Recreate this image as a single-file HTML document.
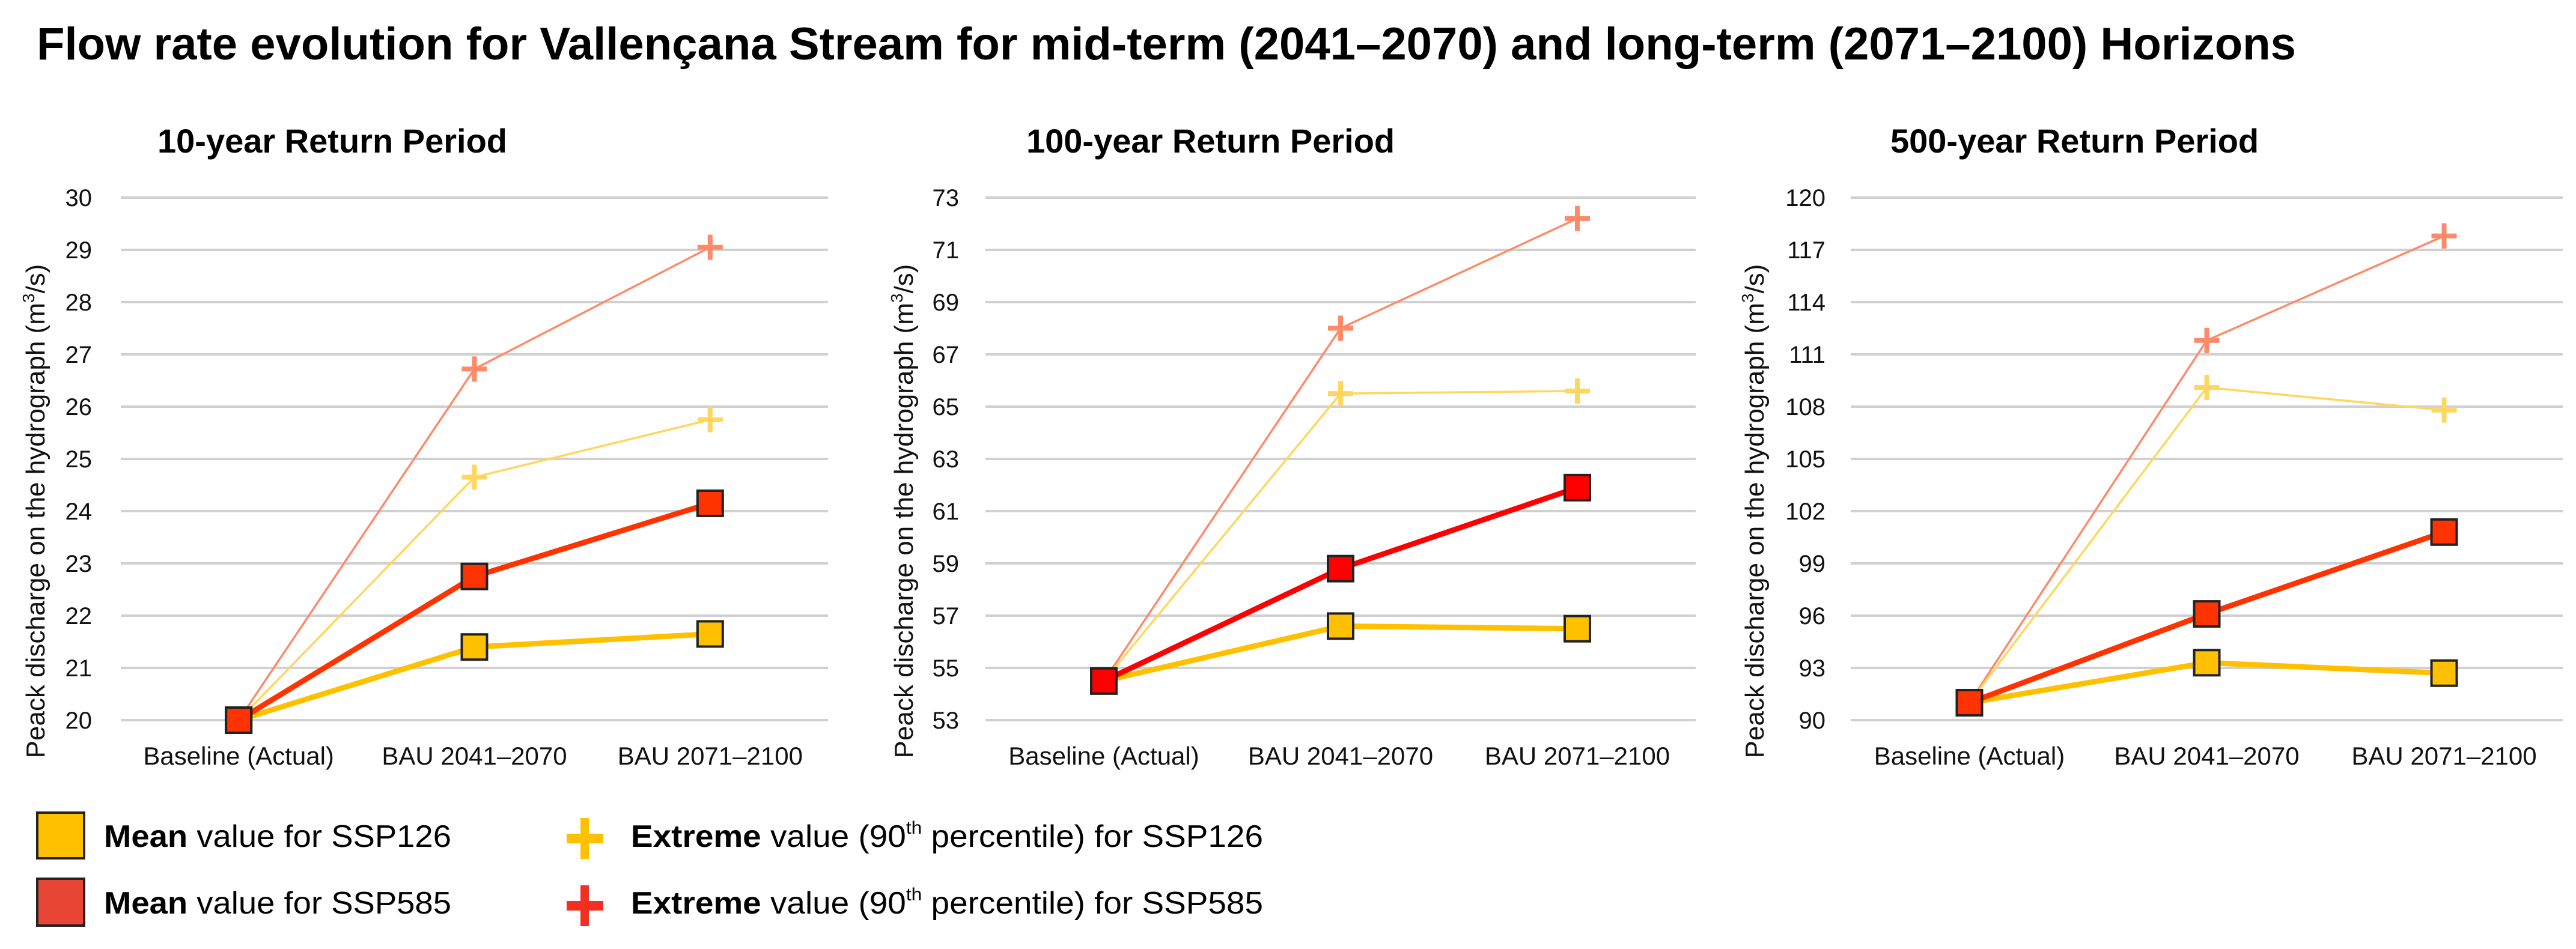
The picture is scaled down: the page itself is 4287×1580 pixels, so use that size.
<!DOCTYPE html>
<html><head><meta charset="utf-8">
<style>
html,body{margin:0;padding:0;background:#fff;}
svg{display:block;font-family:"Liberation Sans",sans-serif;}
</style></head>
<body>
<svg id="root" width="4287" height="1580" viewBox="0 0 4287 1580" xmlns="http://www.w3.org/2000/svg">
<text x="61" y="99" font-size="76" font-weight="bold" fill="#000" textLength="3760" lengthAdjust="spacingAndGlyphs">Flow rate evolution for Vallençana Stream for mid-term (2041–2070) and long-term (2071–2100) Horizons</text>
<g id="charts"></g>
<g>
  <rect x="62" y="1353" width="78" height="76" fill="#ffc000" stroke="#222" stroke-width="4"/>
  <text x="173" y="1410" font-size="52" textLength="578" lengthAdjust="spacingAndGlyphs"><tspan font-weight="bold">Mean</tspan> value for SSP126</text>
  <rect x="62" y="1463" width="78" height="78" fill="#e84535" stroke="#222" stroke-width="4"/>
  <text x="173" y="1521" font-size="52" textLength="578" lengthAdjust="spacingAndGlyphs"><tspan font-weight="bold">Mean</tspan> value for SSP585</text>
  <g><rect x="966" y="1362" width="14" height="68" fill="#ffc000"/><rect x="943" y="1388" width="61" height="16" fill="#ffc000"/></g>
  <text x="1050" y="1410" font-size="52" textLength="1052" lengthAdjust="spacingAndGlyphs"><tspan font-weight="bold">Extreme</tspan> value (90<tspan font-size="30" dy="-22">th</tspan><tspan dy="22"> percentile) for SSP126</tspan></text>
  <g><rect x="966" y="1474" width="14" height="68" fill="#f03020"/><rect x="943" y="1500" width="61" height="16" fill="#f03020"/></g>
  <text x="1050" y="1521" font-size="52" textLength="1052" lengthAdjust="spacingAndGlyphs"><tspan font-weight="bold">Extreme</tspan> value (90<tspan font-size="30" dy="-22">th</tspan><tspan dy="22"> percentile) for SSP585</tspan></text>
</g>
</svg>
<script>
const categories = ["Baseline (Actual)", "BAU 2041–2070", "BAU 2071–2100"];
const titles = ["10-year Return Period", "100-year Return Period", "500-year Return Period"];
const ticks10 = [20,21,22,23,24,25,26,27,28,29,30];
const ticks100 = [53,55,57,59,61,63,65,67,69,71,73];
const ticks500 = [90,93,96,99,102,105,108,111,114,117,120];
const mean126_10 = [20, 21.4, 21.65];
const mean585_10 = [20, 22.75, 24.15];
const ext126_10 = [20, 24.65, 25.75];
const ext585_10 = [20, 26.72, 29.05];
const mean126_100 = [54.5, 56.6, 56.5];
const mean585_100 = [54.5, 58.8, 61.9];
const ext126_100 = [54.5, 65.5, 65.6];
const ext585_100 = [54.5, 68.0, 72.2];
const mean126_500 = [91, 93.3, 92.7];
const mean585_500 = [91, 96.1, 100.8];
const ext126_500 = [91, 109.1, 107.8];
const ext585_500 = [91, 111.8, 117.8];

const NS = "http://www.w3.org/2000/svg";
const root = document.getElementById("charts");
function mk(tag, attrs, parent){const e=document.createElementNS(NS,tag);for(const k in attrs)e.setAttribute(k,attrs[k]);parent.appendChild(e);return e;}

const panels = [
 {x0:201,x1:1378,tickR:153,titleX:262,yTitleX:59,ticks:ticks10,m126:mean126_10,m585:mean585_10,e126:ext126_10,e585:ext585_10,red:"#ff3300",key:"10yr"},
 {x0:1640,x1:2822,tickR:1596,titleX:1708,yTitleX:1504,ticks:ticks100,m126:mean126_100,m585:mean585_100,e126:ext126_100,e585:ext585_100,red:"#ff0000",key:"100yr"},
 {x0:3080,x1:4265,tickR:3038,titleX:3146,yTitleX:2920,ticks:ticks500,m126:mean126_500,m585:mean585_500,e126:ext126_500,e585:ext585_500,red:"#ff3300",key:"500yr"}
];
const yTop=329, yBot=1199;

panels.forEach((p,pi)=>{
  const g=mk("g",{},root);
  
  
  const tmin=p.ticks[0], tmax=p.ticks[p.ticks.length-1];
  const Y=v=>yBot-(v-tmin)/(tmax-tmin)*(yBot-yTop);
  const band=(p.x1-p.x0)/categories.length;
  const X=i=>p.x0+band*(i+0.5);
  const t=mk("text",{x:p.titleX,y:254,"font-size":56,"font-weight":"bold",fill:"#000"},g);
  t.textContent=titles[pi];
  
  
  p.ticks.forEach(v=>{
    const l=mk("line",{x1:p.x0,x2:p.x1,y1:Y(v),y2:Y(v),stroke:"#d0d0d0","stroke-width":4},g);
    
    
    const tl=mk("text",{x:p.tickR,y:Y(v)+14,"font-size":40,"text-anchor":"end",fill:"#111"},g);
    tl.textContent=v;
    
    
  });
  categories.forEach((c,i)=>{
    const xl=mk("text",{x:X(i),y:1273,"font-size":42,"text-anchor":"middle",fill:"#111"},g);
    xl.textContent=c;
    
    
  });
  const yt=mk("text",{x:0,y:0,"font-size":44,"text-anchor":"middle",fill:"#111",transform:`translate(${p.yTitleX+15},851) rotate(-90)`},g);
  yt.innerHTML='Peack discharge on the hydrograph (m<tspan font-size="28" dy="-17">3</tspan><tspan dy="17">/s)</tspan>';
  
  
  const line=(vals,color,w,name)=>{
    const pl=mk("polyline",{points:vals.map((v,i)=>X(i)+","+Y(v)).join(" "),fill:"none",stroke:color,"stroke-width":w,"stroke-linejoin":"round"},g);
    
    
  };
  const plus=(vals,color,name)=>{
    vals.forEach((v,i)=>{
      if(i===0) return;
      const pg=mk("g",{},g);
      
      
      mk("rect",{x:X(i)-4,y:Y(v)-21,width:8,height:42,fill:color},pg);
      mk("rect",{x:X(i)-21,y:Y(v)-4,width:42,height:8,fill:color},pg);
    });
  };
  const squares=(vals,color,name)=>{
    vals.forEach((v,i)=>{
      const r=mk("rect",{x:X(i)-21,y:Y(v)-21,width:42,height:42,fill:color,stroke:"#222","stroke-width":4},g);
      
      
    });
  };
  line(p.e585,"#ff8a6a",3.5,"extreme-ssp585-line");
  line(p.e126,"#ffd75e",3.5,"extreme-ssp126-line");
  plus(p.e585,"#ff8a6a","extreme-ssp585-marker");
  plus(p.e126,"#ffd75e","extreme-ssp126-marker");
  line(p.m126,"#ffc000",9,"mean-ssp126-line");
  line(p.m585,p.red,9,"mean-ssp585-line");
  squares(p.m126,"#ffc000","mean-ssp126-marker");
  squares(p.m585,p.red,"mean-ssp585-marker");
});
</script>
</body></html>
